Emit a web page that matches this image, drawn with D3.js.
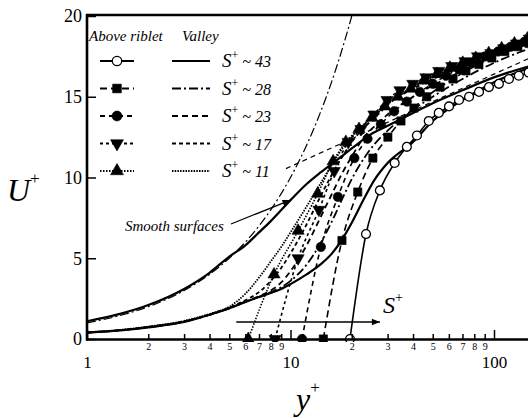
<!DOCTYPE html>
<html>
<head>
<meta charset="utf-8">
<script src="https://cdn.jsdelivr.net/npm/d3@7"></script>
<style>
  html, body { margin: 0; padding: 0; background: #fff; }
  svg { display: block; }
  text { font-family: "Liberation Serif", "Times New Roman", serif; fill: #000; }
</style>
</head>
<body>
<svg id="chart" width="528" height="418"></svg>
<script>
// ---- Data: mean velocity profiles U+ versus y+ ----

// Smooth-wall profile (solid)
const smoothYp = [1, 1.5, 2, 3, 4, 5, 6, 7, 8, 10, 12, 14, 17, 20, 25, 30, 40, 50, 70, 100, 150];
const smoothU  = [1.1, 1.6, 2.1, 3.1, 4.1, 5.1, 5.8, 6.6, 7.3, 8.6, 9.6, 10.3, 11.1, 11.8, 12.7, 13.2, 14.0, 14.6, 15.4, 16.2, 16.9];

// Viscous sublayer line (dash-dot)
const linearYp = [1, 1.5, 2, 3, 4, 5, 6, 7, 8, 9, 10, 11, 12, 13, 14, 15, 16, 17, 18, 19, 20];
const linearU  = [1, 1.5, 2, 3, 4, 5, 6, 7, 8, 9, 10, 11, 12, 13, 14, 15, 16, 17, 18, 19, 20];

// Log-law line (thin dashed)
const logYp = [9.5, 20, 50, 100, 150];
const logU  = [10.55, 12.4, 14.7, 16.4, 17.4];

// Profiles over the riblet valleys (lines only)
const valleyYp  = [1, 1.5, 2, 3, 4, 5, 6, 7, 8, 9, 10, 12, 14, 16, 18, 20, 23, 26, 30, 40, 50, 70, 100, 150];
const valley43U = [0.40, 0.55, 0.72, 1.05, 1.50, 1.90, 2.30, 2.60, 2.85, 3.10, 3.40, 4.00, 4.60, 5.30, 6.20, 7.20, 8.70, 9.90, 10.9, 12.2, 13.5, 14.8, 15.9, 16.8];
const valley28U = [0.40, 0.55, 0.73, 1.07, 1.50, 1.90, 2.30, 2.60, 2.90, 3.20, 3.60, 4.60, 5.90, 7.30, 8.70, 9.90, 11.2, 12.1, 12.9, 14.2, 15.0, 16.1, 17.1, 18.0];
const valley23U = [0.40, 0.56, 0.74, 1.08, 1.50, 1.90, 2.30, 2.65, 3.00, 3.50, 4.20, 5.80, 7.50, 9.00, 10.3, 11.3, 12.5, 13.2, 13.9, 15.0, 15.7, 16.6, 17.5, 18.3];
const valley17U = [0.40, 0.56, 0.75, 1.10, 1.52, 1.95, 2.40, 2.90, 3.60, 4.40, 5.30, 7.10, 8.80, 10.2, 11.3, 12.2, 13.1, 13.7, 14.5, 15.5, 16.1, 16.9, 17.7, 18.5];
const valley11U = [0.42, 0.58, 0.77, 1.12, 1.55, 2.00, 2.80, 3.80, 4.80, 5.70, 6.60, 8.20, 9.60, 10.8, 11.8, 12.5, 13.3, 13.9, 14.6, 15.6, 16.2, 17.0, 17.8, 18.6];

// Profiles above the riblet tips (lines with markers)
const riblet43Yp = [19.6, 23.5, 27.5, 32.5, 37.3, 41.8, 47.8, 53.5, 60.1, 67.3, 75.4, 84.4, 94.4, 105.7, 118.4, 132.4, 148];
const riblet43U  = [0, 6.5, 9.2, 10.9, 11.9, 12.6, 13.5, 14.0, 14.4, 14.8, 15.0, 15.3, 15.6, 15.8, 16.1, 16.3, 16.5];
const riblet28Yp = [14.5, 17.9, 21.4, 25.4, 30.1, 34.9, 40.4, 46.7, 54.3, 62.9, 72.8, 84.3, 97.6, 113, 131, 149];
const riblet28U  = [0, 6.1, 9.1, 11.2, 12.5, 13.5, 14.3, 15.0, 15.6, 16.1, 16.6, 17.0, 17.4, 17.8, 18.1, 18.3];
const riblet23Yp = [11.4, 14.1, 17.1, 20.6, 23.9, 27.8, 32.3, 37.3, 43.2, 50.1, 58.1, 67.3, 78.0, 90.4, 104.7, 121, 141];
const riblet23U  = [0, 5.7, 8.8, 11.2, 12.4, 13.3, 14.1, 14.7, 15.3, 15.8, 16.3, 16.7, 17.1, 17.5, 17.8, 18.1, 18.4];
const riblet17Yp = [8.4, 10.9, 13.8, 16.4, 19.2, 22.2, 25.7, 29.8, 34.5, 39.9, 46.3, 53.5, 62, 72, 83, 96.5, 111.6, 129, 149];
const riblet17U  = [0, 5.0, 8.0, 10.4, 12.2, 13.0, 13.9, 14.8, 15.4, 15.8, 16.2, 16.6, 16.9, 17.2, 17.5, 17.7, 18.0, 18.3, 18.6];
const riblet11Yp = [6.2, 8.3, 10.9, 13.6, 16.2, 18.7, 21.7, 25.1, 29.1, 33.7, 39, 45.2, 52.4, 60.7, 70.2, 81.4, 94.2, 109, 126, 146];
const riblet11U  = [0, 4.0, 6.7, 9.0, 11.0, 12.2, 13.0, 13.7, 14.4, 15.0, 15.5, 16.0, 16.4, 16.8, 17.1, 17.4, 17.7, 18.0, 18.3, 18.6];

// Legend labels (riblet spacing S+)
const spacingLabels = ["43", "28", "23", "17", "11"];

// Axis ticks
const majorTicks = [1, 10, 100];
const minorTicks = [2, 3, 4, 5, 6, 7, 8, 9, 20, 30, 40, 50, 60, 70, 80, 90];
const yTicks = [0, 5, 10, 15, 20];

// ---- Drawing ----
const svg = d3.select("#chart");
const W = 528;

const x = d3.scaleLog().domain([1, 150]).range([87, 87 + 203.5 * Math.log10(150)]);
const y = d3.scaleLinear().domain([0, 20]).range([339, 16]);

const zip = (xs, ys) => xs.map((v, i) => [v, ys[i]]);
const line = d3.line().x(d => x(d[0])).y(d => y(d[1])).curve(d3.curveMonotoneX);
const straight = d3.line().x(d => x(d[0])).y(d => y(d[1]));

svg.append("defs").append("clipPath").attr("id", "plot")
  .append("rect").attr("x", 86).attr("y", 10).attr("width", W - 86).attr("height", 332);

svg.append("defs").append("marker")
  .attr("id", "arrow").attr("viewBox", "0 0 10 10").attr("refX", 10).attr("refY", 5)
  .attr("markerWidth", 10).attr("markerHeight", 8).attr("markerUnits", "userSpaceOnUse")
  .attr("orient", "auto")
  .append("path").attr("d", "M0,1 L10,5 L0,9 Z").attr("fill", "#000");

// Series styles: valley lines and riblet-tip lines with markers
const series = [
  { label: "43", valley: valley43U, rYp: riblet43Yp, rU: riblet43U, vDash: null,        rDash: null,      sym: d3.symbolCircle,   open: true,  size: 62 },
  { label: "28", valley: valley28U, rYp: riblet28Yp, rU: riblet28U, vDash: "9,3,2,3",   rDash: "7,4",     sym: d3.symbolSquare,   open: false, size: 68 },
  { label: "23", valley: valley23U, rYp: riblet23Yp, rU: riblet23U, vDash: "6,4",       rDash: "5,4",     sym: d3.symbolCircle,   open: false, size: 70 },
  { label: "17", valley: valley17U, rYp: riblet17Yp, rU: riblet17U, vDash: "4,3",       rDash: "3,3",     sym: d3.symbolTriangle, open: false, size: 64, flip: true },
  { label: "11", valley: valley11U, rYp: riblet11Yp, rU: riblet11U, vDash: "1.5,1.2",   rDash: "1.5,1.5", sym: d3.symbolTriangle, open: false, size: 64 }
];

const plot = svg.append("g").attr("clip-path", "url(#plot)");

// Smooth-wall reference curves
plot.append("path").attr("d", line(zip(linearYp, linearU)))
  .attr("fill", "none").attr("stroke", "#000").attr("stroke-width", 1.2).attr("stroke-dasharray", "9,3,2,3");
plot.append("path").attr("d", straight(zip(logYp, logU)))
  .attr("fill", "none").attr("stroke", "#000").attr("stroke-width", 1.2).attr("stroke-dasharray", "5,4");
plot.append("path").attr("d", line(zip(smoothYp, smoothU)))
  .attr("fill", "none").attr("stroke", "#000").attr("stroke-width", 2.2);

// Valley profiles
series.forEach(s => {
  plot.append("path").attr("d", line(zip(valleyYp, s.valley)))
    .attr("fill", "none").attr("stroke", "#000").attr("stroke-width", s.vDash ? 1.8 : 2.2)
    .attr("stroke-dasharray", s.vDash);
});

// Riblet-tip profiles with markers
series.forEach(s => {
  const pts = zip(s.rYp, s.rU);
  plot.append("path").attr("d", line(pts))
    .attr("fill", "none").attr("stroke", "#000").attr("stroke-width", 1.6)
    .attr("stroke-dasharray", s.rDash);
  plot.selectAll(null).data(pts).join("path")
    .attr("d", d3.symbol().type(s.sym).size(s.size))
    .attr("transform", d => `translate(${x(d[0])},${y(d[1])})${s.flip ? " rotate(180)" : ""}`)
    .attr("fill", s.open ? "#fff" : "#000")
    .attr("stroke", "#000").attr("stroke-width", s.open ? 1.3 : 0.6);
});

// ---- Axes ----
const styleAxis = (g, size) => {
  g.select(".domain").remove();
  g.selectAll("line").attr("stroke", "#000").attr("stroke-width", 1.5);
  g.selectAll("text").attr("font-size", size).attr("fill", "#000");
  g.attr("font-family", null).attr("font-size", null);
};

svg.append("g").attr("transform", "translate(0,339)")
  .call(d3.axisBottom(x).tickValues(minorTicks).tickSizeInner(-5).tickSizeOuter(0).tickPadding(4)
    .tickFormat(d => String(d).charAt(0)))
  .call(g => styleAxis(g, 10));

svg.append("g").attr("transform", "translate(0,339)")
  .call(d3.axisBottom(x).tickValues(majorTicks).tickSizeInner(-9).tickSizeOuter(0).tickPadding(17)
    .tickFormat(d3.format("d")))
  .call(g => styleAxis(g, 17));

svg.append("g").attr("transform", "translate(87,0)")
  .call(d3.axisLeft(y).tickValues(yTicks).tickSizeInner(-9).tickSizeOuter(0).tickPadding(5))
  .call(g => styleAxis(g, 18));

// Frame lines: left, bottom, top
svg.append("line").attr("x1", 87).attr("x2", 87).attr("y1", 14).attr("y2", 340.5)
  .attr("stroke", "#000").attr("stroke-width", 2.6);
svg.append("line").attr("x1", 86).attr("x2", W).attr("y1", 339.5).attr("y2", 339.5)
  .attr("stroke", "#000").attr("stroke-width", 2.6);
svg.append("line").attr("x1", 86).attr("x2", W).attr("y1", 15).attr("y2", 15)
  .attr("stroke", "#000").attr("stroke-width", 2.6);

// Axis titles
const uTitle = svg.append("text").attr("x", 7).attr("y", 201).attr("font-style", "italic").attr("font-size", 32);
uTitle.append("tspan").text("U");
uTitle.append("tspan").attr("font-size", 17).attr("dy", -17).attr("font-style", "normal").text("+");

const yTitle = svg.append("text").attr("x", 296).attr("y", 410).attr("font-style", "italic").attr("font-size", 32);
yTitle.append("tspan").text("y");
yTitle.append("tspan").attr("font-size", 17).attr("dy", -17).attr("font-style", "normal").text("+");

// ---- Legend ----
const leg = svg.append("g");
leg.append("text").attr("x", 89).attr("y", 41).attr("font-style", "italic").attr("font-size", 15).text("Above riblet");
leg.append("text").attr("x", 182).attr("y", 41).attr("font-style", "italic").attr("font-size", 15).text("Valley");

series.forEach((s, i) => {
  const cy = 61 + i * 27.5;
  leg.append("line").attr("x1", 100).attr("x2", 134).attr("y1", cy).attr("y2", cy)
    .attr("stroke", "#000").attr("stroke-width", 2).attr("stroke-dasharray", s.rDash);
  leg.append("path").attr("d", d3.symbol().type(s.sym).size(s.size + 8))
    .attr("transform", `translate(117,${cy})${s.flip ? " rotate(180)" : ""}`)
    .attr("fill", s.open ? "#fff" : "#000").attr("stroke", "#000").attr("stroke-width", s.open ? 1.3 : 0.6);
  leg.append("line").attr("x1", 172).attr("x2", 210).attr("y1", cy).attr("y2", cy)
    .attr("stroke", "#000").attr("stroke-width", s.vDash ? 1.8 : 2).attr("stroke-dasharray", s.vDash);
  const t = leg.append("text").attr("x", 222).attr("y", cy + 6).attr("font-style", "italic").attr("font-size", 19);
  t.append("tspan").text("S");
  t.append("tspan").attr("font-size", 12).attr("dy", -8).attr("font-style", "normal").text("+");
  t.append("tspan").attr("font-size", 16).attr("dy", 8).text(" ~ " + spacingLabels[i]);
});

// ---- Annotations ----
svg.append("text").attr("x", 125).attr("y", 231).attr("font-style", "italic").attr("font-size", 15).text("Smooth surfaces");
svg.append("line")
  .attr("x1", 231).attr("y1", 224)
  .attr("x2", x(smoothYp[9])).attr("y2", y(smoothU[9]))
  .attr("stroke", "#000").attr("stroke-width", 1.2).attr("marker-end", "url(#arrow)");

// S+ arrow pointing toward larger riblet spacing
svg.append("line")
  .attr("x1", x(riblet11Yp[0]) - 12).attr("y1", 322)
  .attr("x2", x(riblet43Yp[2])).attr("y2", 322)
  .attr("stroke", "#000").attr("stroke-width", 1.5).attr("marker-end", "url(#arrow)");
const sLab = svg.append("text").attr("x", 383).attr("y", 313).attr("font-style", "italic").attr("font-size", 24);
sLab.append("tspan").text("S");
sLab.append("tspan").attr("font-size", 14).attr("dy", -11).attr("font-style", "normal").text("+");
</script>
</body>
</html>
